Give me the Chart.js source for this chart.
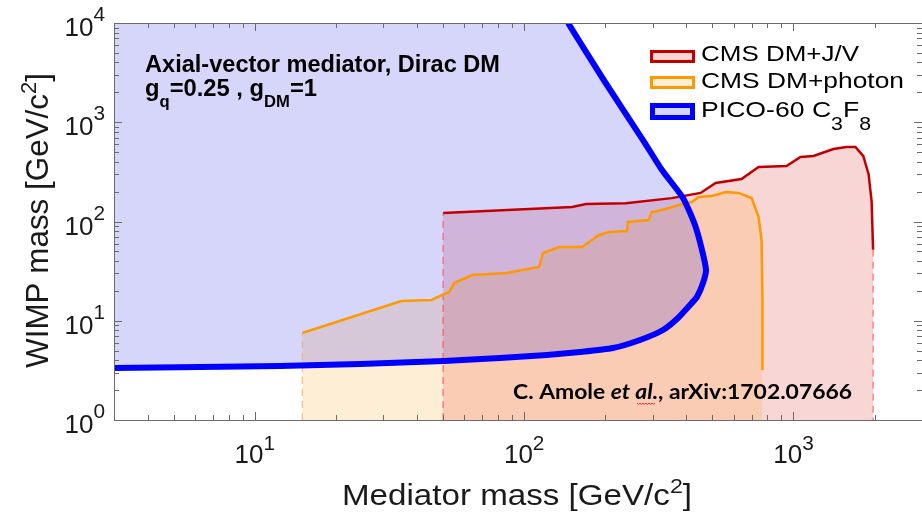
<!DOCTYPE html>
<html>
<head>
<meta charset="utf-8">
<script src="https://cdn.jsdelivr.net/npm/chart.js@4.4.1/dist/chart.umd.min.js"></script>
<style>
  html, body { margin: 0; padding: 0; background: #fff; overflow: hidden; }
  canvas { display: block; }
</style>
</head>
<body>
<canvas id="c" width="922" height="516"></canvas>
<script>
// Axis ranges (GeV/c^2)
const massRange = [3, 3000];
const wimpRange = [1, 10000];
// Decades that carry a "10^n" label
const xDecades = [1, 2, 3];
const yDecades = [0, 1, 2, 3, 4];

// CMS DM+J/V excluded contour
const jvMediator = [50, 150.6, 169.8, 238.6, 353, 452, 514, 641, 742, 942, 1061, 1186, 1407, 1571, 1698, 1817, 1900, 1950, 1975];
const jvWimp     = [122, 140, 150, 153, 172, 194, 244, 268, 354, 362, 447, 457, 537, 563, 563, 455, 300, 160, 52];

// CMS DM+photon excluded contour
const photonMediator = [15, 35, 45.3, 49.7, 52.7, 55, 64.2, 85.8, 113.6, 117.5, 134.8, 164, 189.6, 206.5, 240.6,
                        242.8, 290, 297.8, 335.7, 375, 419, 444.8, 497, 560, 625, 699, 742, 761, 767, 767];
const photonWimp     = [7.53, 15.8, 16.2, 18.2, 19.5, 24.0, 28.9, 30.3, 34.8, 48.2, 55.3, 55.3, 73.1, 78.4, 80.2,
                        98.9, 103.5, 124.7, 133.6, 146.6, 157, 176.6, 180.7, 198, 194, 172.6, 111, 65.1, 16.2, 3.19];

// PICO-60 C3F8 limit curve (lower branch, nose, then upper branch)
const picoMediator = [3, 6.26, 12.4, 24.6, 50.4, 81.3, 121.6, 161.2, 213.7, 269.2, 327.7, 372.6, 412.8, 438.2,
                      461.3, 473.3, 457.4, 430.8, 388.8, 324.9, 276.2, 199.6, 145.5];
const picoWimp     = [3.34, 3.42, 3.50, 3.67, 3.93, 4.21, 4.52, 4.84, 5.31, 6.40, 8.07, 10.66, 14.4, 17.4,
                      24.0, 32.5, 51.6, 92.2, 172.5, 330, 662, 2544, 10000];

// Legend entries
const legendLabels = [
  [{ t: 'CMS DM+J/V' }],
  [{ t: 'CMS DM+photon' }],
  [{ t: 'PICO-60 C' }, { t: '3', sub: true }, { t: 'F' }, { t: '8', sub: true }]
];

const SANS = '"Liberation Sans", Arial, Helvetica, sans-serif';
const AXIS_COLOR = '#6b6b6b';
const JV_LINE = '#c00000', JV_FILL = 'rgba(220,0,0,0.16)', JV_EDGE = '#ff4d4d';
const PH_LINE = '#ff9900', PH_FILL = 'rgba(255,150,0,0.16)', PH_EDGE = '#ffa860';
const PICO_LINE = '#0000ff', PICO_FILL = 'rgba(0,0,230,0.16)';

const toPoints = (xs, ys) => xs.map((x, i) => ({ x, y: ys[i] }));
const jv = toPoints(jvMediator, jvWimp);
const ph = toPoints(photonMediator, photonWimp);
const pico = toPoints(picoMediator, picoWimp);
const jvLast = jv[jv.length - 1];

// Draws a run of text pieces (with optional sub/superscripts), optionally stretched to a width
function richText(ctx, runs, x, y, o) {
  const fam = o.family || SANS;
  const weight = o.weight || 'normal';
  const sc = o.scriptScale || 0.7;
  const parts = runs.map(r => {
    const small = r.sub || r.sup;
    const size = o.size * (small ? sc : 1);
    const font = (r.italic ? 'italic ' : '') + weight + ' ' + size + 'px ' + fam;
    ctx.font = font;
    return { t: r.t, font, w: ctx.measureText(r.t).width,
             dy: r.sub ? (o.subDy || 0) : r.sup ? -(o.supDy || 0) : 0 };
  });
  const natural = parts.reduce((s, p) => s + p.w, 0);
  const sx = o.width ? o.width / natural : 1;
  const total = natural * sx;
  const left = o.align === 'center' ? x - total / 2 : o.align === 'right' ? x - total : x;
  ctx.save();
  ctx.fillStyle = o.color || '#111';
  ctx.textAlign = 'left';
  ctx.textBaseline = 'alphabetic';
  ctx.translate(left, y);
  ctx.scale(sx, 1);
  let cx = 0;
  for (const p of parts) {
    ctx.font = p.font;
    ctx.fillText(p.t, cx, p.dy);
    cx += p.w;
  }
  ctx.restore();
}

function logTickValues(min, max) {
  const out = [];
  for (let e = Math.floor(Math.log10(min)); e <= Math.ceil(Math.log10(max)); e++) {
    for (let m = 1; m < 10; m++) {
      const v = m * Math.pow(10, e);
      if (v >= min * 0.999 && v <= max * 1.001) out.push({ v, major: m === 1 });
    }
  }
  return out;
}

// Frame, inward tick marks, tick labels, titles, notes and legend
const decorations = {
  id: 'decorations',
  afterDatasetsDraw(chart) {
    const { ctx, chartArea: a, scales: { x, y } } = chart;
    ctx.save();
    ctx.strokeStyle = AXIS_COLOR;
    ctx.lineWidth = 1;
    ctx.beginPath();
    for (const t of logTickValues(massRange[0], massRange[1])) {
      const px = Math.round(x.getPixelForValue(t.v)) + 0.5;
      const len = t.major ? 8 : 5;
      ctx.moveTo(px, a.bottom); ctx.lineTo(px, a.bottom - len);
      ctx.moveTo(px, a.top); ctx.lineTo(px, a.top + len);
    }
    for (const t of logTickValues(wimpRange[0], wimpRange[1])) {
      const py = Math.round(y.getPixelForValue(t.v)) + 0.5;
      const len = t.major ? 8 : 5;
      ctx.moveTo(a.left, py); ctx.lineTo(a.left + len, py);
      ctx.moveTo(a.right, py); ctx.lineTo(a.right - len, py);
    }
    ctx.stroke();
    ctx.beginPath();
    ctx.moveTo(a.left + 0.5, a.top + 0.5);
    ctx.lineTo(a.right, a.top + 0.5);
    ctx.moveTo(a.left + 0.5, a.top);
    ctx.lineTo(a.left + 0.5, a.bottom + 0.5);
    ctx.lineTo(a.right, a.bottom + 0.5);
    ctx.stroke();
    ctx.restore();
  },
  afterDraw(chart) {
    const { ctx, chartArea: a, scales: { x, y } } = chart;

    // tick labels 10^n
    for (const e of xDecades) {
      const px = x.getPixelForValue(Math.pow(10, e));
      richText(ctx, [{ t: '10' }, { t: String(e), sup: true }], px, a.bottom + 43,
               { size: 26, align: 'center', scriptScale: 0.8, supDy: 13, color: '#1a1a1a' });
    }
    for (const e of yDecades) {
      const py = y.getPixelForValue(Math.pow(10, e));
      richText(ctx, [{ t: '10' }, { t: String(e), sup: true }], a.left - 9, py + 13,
               { size: 26, align: 'right', scriptScale: 0.8, supDy: 15, color: '#1a1a1a' });
    }

    // axis titles
    richText(ctx, [{ t: 'Mediator mass [GeV/c' }, { t: '2', sup: true }, { t: ']' }],
             (a.left + a.right) / 2 - 1, 505,
             { size: 30, align: 'center', scriptScale: 0.7, supDy: 12, width: 350, color: '#1a1a1a' });
    ctx.save();
    ctx.translate(48, (a.top + a.bottom) / 2 - 1);
    ctx.rotate(-Math.PI / 2);
    richText(ctx, [{ t: 'WIMP mass [GeV/c' }, { t: '2', sup: true }, { t: ']' }], 0, 0,
             { size: 31, align: 'center', scriptScale: 0.7, supDy: 12, width: 295, color: '#1a1a1a' });
    ctx.restore();

    // model notes
    richText(ctx, [{ t: 'Axial-vector mediator, Dirac DM' }], 145, 72,
             { size: 23, weight: 'bold', width: 355, color: '#000' });
    richText(ctx, [{ t: 'g' }, { t: 'q', sub: true }, { t: '=0.25 , g' }, { t: 'DM', sub: true }, { t: '=1' }], 145, 96,
             { size: 23, weight: 'bold', scriptScale: 0.7, subDy: 11, width: 172, color: '#000' });
    richText(ctx, [{ t: 'C. Amole ' }, { t: 'et al.', italic: true }, { t: ', arXiv:1702.07666' }], 513, 399,
             { size: 20, weight: 'bold', family: 'Lato, "Open Sans", sans-serif', width: 339, color: '#000' });
    // proof-reading squiggle under "al"
    ctx.save();
    ctx.strokeStyle = '#e03030';
    ctx.lineWidth = 1;
    ctx.beginPath();
    for (let i = 0, sx = 637; sx <= 655; i++, sx += 1.5) {
      const sy = 403.5 + (i % 2 ? 1 : -0.5);
      if (i === 0) ctx.moveTo(sx, sy); else ctx.lineTo(sx, sy);
    }
    ctx.stroke();
    ctx.restore();

    // legend
    const rows = [
      { fill: JV_FILL, stroke: JV_LINE, lw: 3, top: 50, h: 13, base: 61 },
      { fill: PH_FILL, stroke: PH_LINE, lw: 3, top: 76, h: 13, base: 88 },
      { fill: PICO_FILL, stroke: PICO_LINE, lw: 5, top: 103, h: 17, base: 117 }
    ];
    const widths = [158, 203, 170];
    rows.forEach((r, i) => {
      ctx.save();
      ctx.fillStyle = '#fff';
      ctx.fillRect(650, r.top, 45, r.h);
      ctx.fillStyle = r.fill;
      ctx.fillRect(650, r.top, 45, r.h);
      ctx.strokeStyle = r.stroke;
      ctx.lineWidth = r.lw;
      ctx.strokeRect(650 + r.lw / 2, r.top + r.lw / 2, 45 - r.lw, r.h - r.lw);
      ctx.restore();
      richText(ctx, legendLabels[i], 701, r.base,
               { size: 22, scriptScale: 0.8, subDy: 13, width: widths[i], color: '#000' });
    });
  }
};

const lineDefaults = { showLine: true, pointRadius: 0, pointHoverRadius: 0, tension: 0 };

new Chart(document.getElementById('c'), {
  type: 'scatter',
  data: {
    datasets: [
      { ...lineDefaults, label: 'CMS DM+J/V', data: jv, borderColor: JV_LINE, borderWidth: 2.5,
        backgroundColor: JV_FILL, fill: 'start', order: 10 },
      { ...lineDefaults, label: 'CMS DM+J/V low edge', data: [{ x: jv[0].x, y: wimpRange[0] }, jv[0]],
        borderColor: JV_EDGE, borderWidth: 1, borderDash: [7, 5], fill: false, order: 9 },
      { ...lineDefaults, label: 'CMS DM+J/V high edge', data: [jvLast, { x: jvLast.x, y: wimpRange[0] }],
        borderColor: JV_EDGE, borderWidth: 1, borderDash: [7, 5], fill: false, order: 9 },
      { ...lineDefaults, label: 'CMS DM+photon', data: ph, borderColor: PH_LINE, borderWidth: 2.5,
        backgroundColor: PH_FILL, fill: 'start', order: 8 },
      { ...lineDefaults, label: 'CMS DM+photon low edge', data: [{ x: ph[0].x, y: wimpRange[0] }, ph[0]],
        borderColor: PH_EDGE, borderWidth: 1, borderDash: [7, 5], fill: false, order: 7 },
      { ...lineDefaults, label: 'PICO-60 region', data: [...pico, { x: massRange[0], y: wimpRange[1] }],
        borderColor: 'transparent', borderWidth: 0, backgroundColor: PICO_FILL, fill: 'shape', order: 6 },
      { ...lineDefaults, label: 'PICO-60 C3F8', data: pico, borderColor: PICO_LINE, borderWidth: 6,
        fill: false, tension: 0.2, clip: 0, order: 5 }
    ]
  },
  options: {
    responsive: false,
    animation: false,
    devicePixelRatio: 1,
    layout: { padding: { top: 23, left: 114, right: 0, bottom: 96 } },
    scales: {
      x: { type: 'logarithmic', min: massRange[0], max: massRange[1], display: false },
      y: { type: 'logarithmic', min: wimpRange[0], max: wimpRange[1], display: false }
    },
    plugins: {
      legend: { display: false },
      tooltip: { enabled: false },
      filler: { drawTime: 'beforeDatasetsDraw' }
    },
    events: []
  },
  plugins: [decorations]
});
</script>
</body>
</html>
